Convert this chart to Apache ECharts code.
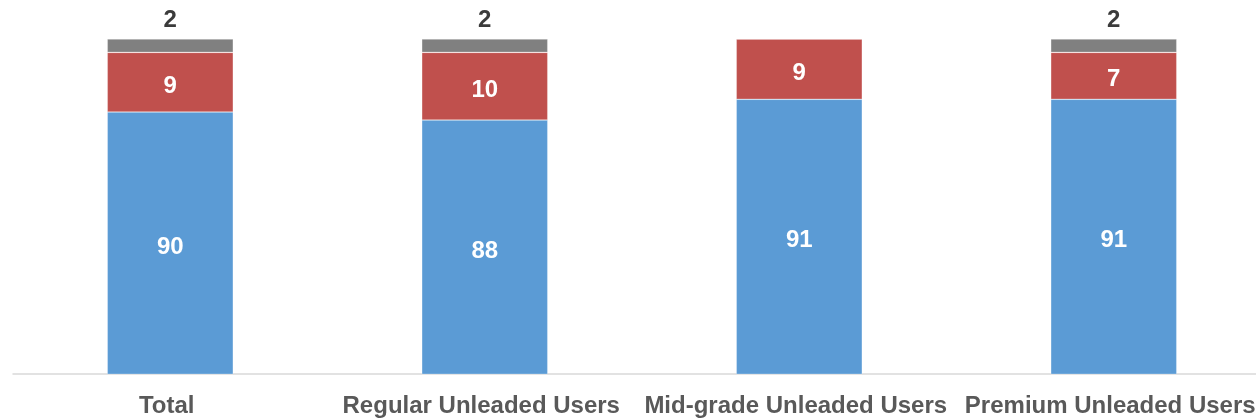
<!DOCTYPE html>
<html>
<head>
<meta charset="utf-8">
<script src="https://cdn.jsdelivr.net/npm/echarts@6/dist/echarts.min.js"></script>
<style>
html,body{margin:0;padding:0;background:#fff;}
#chart{width:1256px;height:419px;}
</style>
</head>
<body>
<div id="chart"></div>
<script>
const categories = ['Total', 'Regular Unleaded Users', 'Mid-grade Unleaded Users', 'Premium Unleaded Users'];
// segment sizes (percent)
const blueValues = [89.1, 87.9, 91, 91];
const redValues = [8.9, 10.1, 9, 7];
const grayValues = [2, 2, 0, 2];
// labels as printed in the reference
const blueLabels = ['90', '88', '91', '91'];
const redLabels = ['9', '10', '9', '7'];
const grayLabels = ['2', '2', '', '2'];
const yMin = 50;
const yMax = 100;

const FONT = 'Liberation Sans, Arial, Helvetica, sans-serif';
const chart = echarts.init(document.getElementById('chart'));

function seg(name, data, labels, color, labelPos, labelColor, offset) {
  return {
    name: name,
    type: 'bar',
    stack: 'all',
    barWidth: 126,
    data: data,
    itemStyle: { color: color, borderColor: 'rgba(255,255,255,0.45)', borderWidth: 0.6 },
    label: {
      show: true,
      position: labelPos,
      distance: 7,
      offset: offset,
      color: labelColor,
      fontFamily: FONT,
      fontWeight: 'bold',
      fontSize: 24,
      formatter: p => labels[p.dataIndex]
    },
    emphasis: { disabled: true },
    animation: false
  };
}

chart.setOption({
  backgroundColor: '#fff',
  animation: false,
  grid: { left: 13, right: -15, top: 39, bottom: 45, containLabel: false, outerBoundsMode: 'none' },
  xAxis: {
    type: 'category',
    data: categories,
    axisLine: { show: true, lineStyle: { color: '#d9d9d9', width: 1.5 } },
    axisTick: { show: false },
    axisLabel: {
      interval: 0,
      margin: 20,
      padding: [0, 7, 0, 0],
      color: '#595959',
      fontFamily: FONT,
      fontWeight: 'bold',
      fontSize: 24
    }
  },
  yAxis: {
    type: 'value',
    min: yMin,
    max: yMax,
    show: false,
    splitLine: { show: false }
  },
  series: [
    seg('Blue', blueValues, blueLabels, '#5B9BD5', 'inside', '#ffffff', [0, 4]),
    seg('Red', redValues, redLabels, '#C0504D', 'inside', '#ffffff', [0, 4]),
    seg('Gray', grayValues, grayLabels, '#808080', 'top', '#3b3b3b', [0, 0])
  ]
});
</script>
</body>
</html>
